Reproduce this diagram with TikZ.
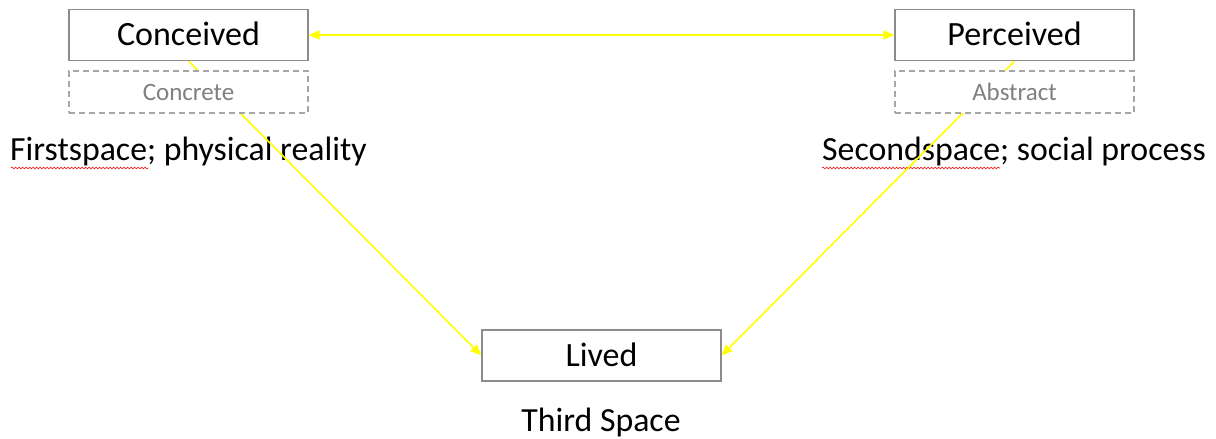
\documentclass[tikz,border=0pt]{standalone}
\usepackage{fontspec}
\setmainfont{Carlito}
\usetikzlibrary{arrows.meta,decorations.pathmorphing}
\definecolor{boxgray}{HTML}{8C8C8C}
\definecolor{dashgray}{HTML}{A6A6A6}
\definecolor{subtext}{HTML}{808080}
\definecolor{linkyellow}{HTML}{FFFF00}
\tikzset{
  mainbox/.style={draw=boxgray, line width=1.2pt, fill=white, minimum width=239pt, minimum height=51pt, inner sep=0pt, text height=21.5pt, text depth=0pt, font=\fontsize{34}{37}\selectfont},
  subbox/.style={draw=dashgray, line width=1.2pt, dash pattern=on 6pt off 4pt, fill=white, minimum width=239pt, minimum height=42pt, inner sep=0pt, text height=16pt, text depth=0pt, text=subtext, font=\fontsize{25}{28}\selectfont},
  caption/.style={inner sep=0pt, font=\fontsize{33.8}{37}\selectfont},
  link/.style={draw=linkyellow, line width=1.6pt},
  tip/.style={-{Triangle[length=11pt,width=9pt]}},
  bitip/.style={{Triangle[length=11pt,width=9pt]}-{Triangle[length=11pt,width=9pt]}},
  squiggle/.style={draw=red, line width=0.6pt, decorate, decoration={snake, amplitude=0.9pt, segment length=3.5pt}}
}
\begin{document}
\begin{tikzpicture}[x=1pt,y=-1pt]
\path[use as bounding box] (0,0) rectangle (1216,439);
% captions
\node[caption, anchor=base west] (first) at (10,160) {Firstspace; physical reality};
\node[caption, anchor=base west] (second) at (822,160) {Secondspace; social process};
\node[caption, anchor=base] (third) at (601,431) {Third Space};
\coordinate (sq1a) at (11,168);
\coordinate (sq1b) at (148,168);
\coordinate (sq2a) at (822,168);
\coordinate (sq2b) at (1000,168);
\draw[squiggle] (sq1a) -- (sq1b);
\draw[squiggle] (sq2a) -- (sq2b);
% main boxes
\node[mainbox] (conceived) at (188.5,35) {Conceived};
\node[mainbox] (perceived) at (1014.5,35) {Perceived};
\node[mainbox] (lived) at (601.5,355.5) {Lived};
% connectors
\draw[link, bitip] (conceived.east) -- (perceived.west);
\draw[link, tip] (conceived.south) -- (lived.west);
\draw[link, tip] (perceived.south) -- (lived.east);
% dashed sub boxes on top
\node[subbox] (concrete) at (188.5,92) {Concrete};
\node[subbox] (abstract) at (1014.5,92) {Abstract};
\end{tikzpicture}
\end{document}
